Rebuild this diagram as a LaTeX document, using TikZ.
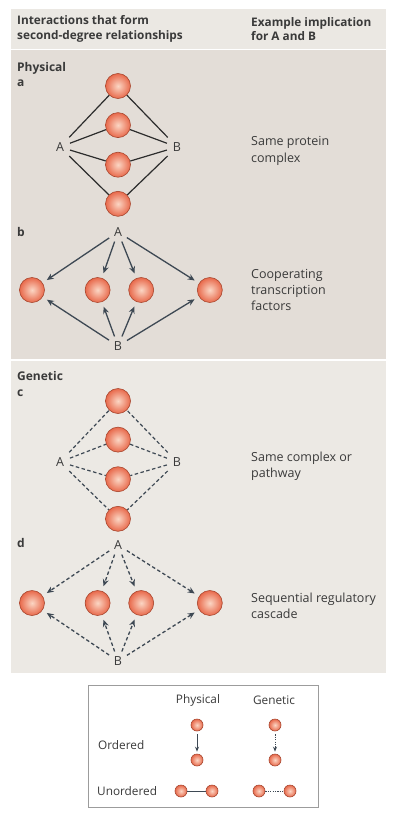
\documentclass[tikz,border=0pt]{standalone}
\usepackage{fontspec}
\setmainfont{Open Sans}
\usetikzlibrary{arrows.meta,positioning}
\definecolor{headgray}{HTML}{EBE8E3}
\definecolor{physgray}{HTML}{E3DDD7}
\definecolor{genegray}{HTML}{ECE9E4}
\definecolor{slate}{HTML}{3E4954}
\definecolor{linkgray}{HTML}{2C2C2C}
\definecolor{inkgray}{HTML}{3A3A3A}
\definecolor{ballin}{HTML}{FBD6C4}
\definecolor{ballout}{HTML}{E8694B}
\definecolor{ballrim}{HTML}{A8472F}
\definecolor{boxgray}{HTML}{9C9C9C}

\begin{document}
\begin{tikzpicture}[x=1pt, y=-1pt,
    ball/.style={circle, minimum size=#1, inner sep=0pt, draw=ballrim,
                 line width=0.6pt, inner color=ballin, outer color=ballout},
    ball/.default=25pt,
    ablbl/.style={font=\fontsize{12.5}{14}\selectfont, text=inkgray, inner sep=3pt},
    panel/.style={font=\bfseries\fontsize{12}{14}\selectfont, text=inkgray,
                  anchor=west, inner sep=0pt},
    head/.style={font=\bfseries\fontsize{11.8}{14.5}\selectfont, text=inkgray,
                 align=left, anchor=west, inner sep=0pt},
    impl/.style={font=\fontsize{12.5}{16.3}\selectfont, text=inkgray,
                 align=left, anchor=west, inner sep=0pt},
    lgd/.style={font=\fontsize{11.8}{13}\selectfont, text=inkgray, inner sep=0pt},
    link/.style={line width=1.2pt, linkgray, shorten <=3pt},
    glink/.style={line width=1.2pt, slate, dash pattern=on 3.5pt off 2.5pt,
                  shorten <=3pt},
    arr/.style={-{Stealth[length=7pt,width=6pt]}, line width=1.3pt, slate,
                shorten >=5pt, shorten <=2pt},
    garr/.style={arr, dash pattern=on 3.5pt off 2.5pt},
  ]
    \useasboundingbox (0,0) rectangle (400,814);

    % === Background bands ===
    \fill[headgray] (11,9) rectangle (386,49);
    \fill[physgray] (11,50) rectangle (386,359);
    \fill[genegray] (11,361) rectangle (386,673);

    \node[head] (headl) at (17,29) {Interactions that form\\second-degree relationships};
    \node[head] (headr) at (251,29) {Example implication\\for A and B};

    % === Physical ===
    \node[panel] (phys) at (17,68) {Physical};
    \node[panel] (pa) at (17,83) {a};

    \node[ball] (a1) at (118,86) {};
    \node[ball, below=13.5pt of a1] (a2) {};
    \node[ball, below=14pt of a2] (a3) {};
    \node[ball, below=13.5pt of a3] (a4) {};
    \node[ablbl] (aA) at (60,147) {A};
    \node[ablbl] (aB) at (177,147) {B};
    \foreach \c in {a1,a2,a3,a4} {
      \draw[link] (aA) -- (\c);
      \draw[link] (aB) -- (\c);
    }
    \node[impl] (ia) at (251,151) {Same protein\\complex};

    \node[panel] (pb) at (17,232) {b};
    \node[ablbl] (bA) at (118,232) {A};
    \node[ball] (b1) at (32,290) {};
    \node[ball, right=40pt of b1] (b2) {};
    \node[ball, right=18pt of b2] (b3) {};
    \node[ball, right=43pt of b3] (b4) {};
    \node[ablbl] (bB) at (118,346) {B};
    \foreach \c in {b1,b2,b3,b4} {
      \draw[arr] (bA) -- (\c);
      \draw[arr] (bB) -- (\c);
    }
    \node[impl] (ib) at (251,290) {Cooperating\\transcription\\factors};

    % === Genetic ===
    \node[panel] (gene) at (17,376) {Genetic};
    \node[panel] (pc) at (17,393) {c};

    \node[ball] (c1) at (118,401) {};
    \node[ball, below=13pt of c1] (c2) {};
    \node[ball, below=14pt of c2] (c3) {};
    \node[ball, below=14pt of c3] (c4) {};
    \node[ablbl] (cA) at (60,462) {A};
    \node[ablbl] (cB) at (177,462) {B};
    \foreach \c in {c1,c2,c3,c4} {
      \draw[glink] (cA) -- (\c);
      \draw[glink] (cB) -- (\c);
    }
    \node[impl] (ic) at (251,466) {Same complex or\\pathway};

    \node[panel] (pd) at (17,543) {d};
    \node[ablbl] (dA) at (118,545) {A};
    \node[ball] (d1) at (32,603) {};
    \node[ball, right=40pt of d1] (d2) {};
    \node[ball, right=18pt of d2] (d3) {};
    \node[ball, right=43pt of d3] (d4) {};
    \node[ablbl] (dB) at (118,661) {B};
    \foreach \c in {d1,d2,d3,d4} {
      \draw[garr] (dA) -- (\c);
      \draw[garr] (dB) -- (\c);
    }
    \node[impl] (id) at (251,606) {Sequential regulatory\\cascade};

    % === Legend ===
    \draw[boxgray, line width=0.8pt, fill=white] (88,685) rectangle (318,807);
    \node[lgd] (lphys) at (198,700) {Physical};
    \node[lgd] (lgen) at (274,700) {Genetic};
    \node[lgd, anchor=west] (lord) at (98,745) {Ordered};
    \node[lgd, anchor=west] (lunord) at (97,791) {Unordered};

    \node[ball=12pt] (po1) at (197,725) {};
    \node[ball=12pt] (po2) at (197,760) {};
    \node[ball=12pt] (go1) at (275,725) {};
    \node[ball=12pt] (go2) at (275,760) {};
    \draw[-{Stealth[length=5pt,width=4pt]}, line width=1pt, slate,
          shorten <=3pt, shorten >=2pt] (po1) -- (po2);
    \draw[-{Stealth[length=5pt,width=4pt]}, line width=1pt, slate,
          dash pattern=on 1.2pt off 1.2pt, shorten <=3pt, shorten >=2pt] (go1) -- (go2);

    \node[ball=12pt] (pu1) at (181,791) {};
    \node[ball=12pt] (pu2) at (212,791) {};
    \node[ball=12pt] (gu1) at (259,791) {};
    \node[ball=12pt] (gu2) at (290,791) {};
    \draw[line width=1pt, slate] (pu1) -- (pu2);
    \draw[line width=1pt, slate, dash pattern=on 1.2pt off 1.2pt] (gu1) -- (gu2);
  \end{tikzpicture}
\end{document}
